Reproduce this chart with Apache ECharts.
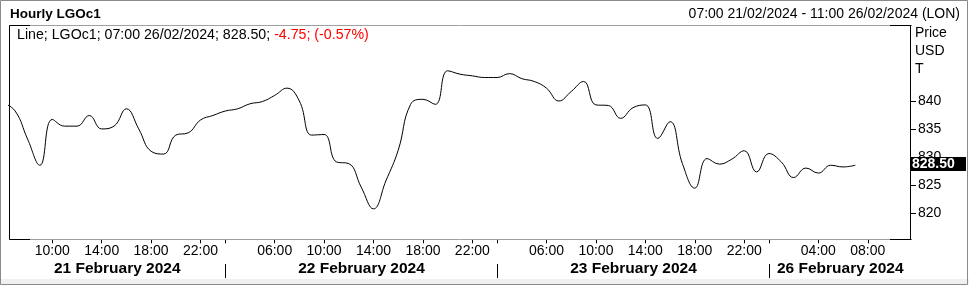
<!DOCTYPE html>
<html><head><meta charset="utf-8">
<script src="https://cdn.jsdelivr.net/npm/echarts@6/dist/echarts.min.js"></script>
<style>html,body{margin:0;padding:0;background:#fff}#c{width:969px;height:285px}</style>
</head><body><div id="c"></div>
<script>
// ---- data ----
const categories = [
  '21/02 06:00','21/02 07:00','21/02 08:00','21/02 09:00','21/02 10:00','21/02 11:00','21/02 12:00','21/02 13:00','21/02 14:00',
  '21/02 15:00','21/02 16:00','21/02 17:00','21/02 18:00','21/02 19:00','21/02 20:00','21/02 21:00','21/02 22:00','21/02 23:00',
  '22/02 02:00','22/02 03:00','22/02 04:00','22/02 05:00','22/02 06:00','22/02 07:00','22/02 08:00','22/02 09:00','22/02 10:00',
  '22/02 11:00','22/02 12:00','22/02 13:00','22/02 14:00','22/02 15:00','22/02 16:00','22/02 17:00','22/02 18:00','22/02 19:00',
  '22/02 20:00','22/02 21:00','22/02 22:00','22/02 23:00',
  '23/02 02:00','23/02 03:00','23/02 04:00','23/02 05:00','23/02 06:00','23/02 07:00','23/02 08:00','23/02 09:00','23/02 10:00',
  '23/02 11:00','23/02 12:00','23/02 13:00','23/02 14:00','23/02 15:00','23/02 16:00','23/02 17:00','23/02 18:00','23/02 19:00',
  '23/02 20:00','23/02 21:00','23/02 22:00','23/02 23:00',
  '26/02 00:00','26/02 01:00','26/02 02:00','26/02 03:00','26/02 04:00','26/02 05:00','26/02 06:00','26/02 07:00','26/02 08:00',
  '26/02 09:00','26/02 10:00','26/02 11:00'
];
const prices = [
  839.7,
  838.2, 833.2, 828.5, 836.7, 835.5, 835.5, 837.4, 835.0, 835.5, 838.6, 835.0, 831.0, 830.5, 833.9, 834.3, 836.6, 837.4,
  838.2, 838.6, 839.5, 839.9, 841.0, 842.3, 840.0, 833.9, 834.0, 829.1, 828.8, 824.6, 820.7, 825.7, 831.2, 839.4, 840.3,
  839.4, 845.4, 844.8, 844.5, 844.2,
  844.2, 844.9, 844.0, 843.5, 842.3, 840.0, 841.7, 843.5, 839.3, 839.2, 836.9, 838.8, 839.3, 833.3, 836.3, 828.8, 824.4,
  829.7, 828.7, 829.6, 831.1, 827.3,
  830.6, 829.1, 826.3, 828.0, 827.1, 828.5, 828.2, 828.50
];
const timeTicks = ['21/02 10:00','21/02 14:00','21/02 18:00','21/02 22:00',
  '22/02 06:00','22/02 10:00','22/02 14:00','22/02 18:00','22/02 22:00',
  '23/02 06:00','23/02 10:00','23/02 14:00','23/02 18:00','23/02 22:00',
  '26/02 04:00','26/02 08:00'];
const dayStarts = ['22/02 02:00','23/02 02:00','26/02 00:00'];
const dayLabels = ['21 February 2024','22 February 2024','23 February 2024','26 February 2024'];
const yTicks = [820, 825, 830, 835, 840];
const yUnitLabels = ['Price', 'USD', 'T'];
const lastValue = 828.50;
const lastValueText = '828.50';
const legendMain = 'Line; LGOc1; 07:00 26/02/2024; 828.50; ';
const legendChange = '-4.75; (-0.57%)';
const titleText = 'Hourly LGOc1';
const rangeText = '07:00 21/02/2024 - 11:00 26/02/2024 (LON)';

// ---- chart ----
const FONT = '"Liberation Sans", Arial, sans-serif';
const FS = '14px ';
const PL = 9, PR = 911, PT = 25, PB = 239;
const chart = echarts.init(document.getElementById('c'));
chart.setOption({
  animation: false,
  grid: { left: PL, width: PR - PL, top: PT, height: PB - PT + 0.3 },
  xAxis: {
    type: 'category', data: categories, boundaryGap: true, min: 1, max: categories.length - 1,
    axisLine: { show: false },
    axisTick: { show: true, alignWithLabel: true, length: 4, lineStyle: { color: '#000' },
      interval: (i, v) => timeTicks.includes(v) || dayStarts.includes(v) },
    axisLabel: { interval: (i, v) => timeTicks.includes(v), formatter: v => v.slice(6),
      fontSize: 14, color: '#000', fontFamily: FONT, margin: 4.5 },
    splitLine: { show: false }
  },
  yAxis: {
    type: 'value', position: 'right', min: 815.25, max: 853.6,
    axisLine: { show: false }, axisTick: { show: false }, axisLabel: { show: false }, splitLine: { show: false }
  },
  series: [{
    type: 'line', data: prices, smooth: 0.45, symbol: 'none', clip: true,
    lineStyle: { color: '#000', width: 1 }
  }]
});

const g = [];
const line = (x1, y1, x2, y2, c) => g.push({ type: 'line', silent: true, z: 10,
  shape: { x1, y1, x2, y2 }, style: { stroke: c, lineWidth: 1 } });
const text = (x, y, t, o) => g.push({ type: 'text', silent: true, z: 10, x, y,
  style: Object.assign({ text: t, fill: '#000', font: FS + FONT, textVerticalAlign: 'middle' }, o) });

// outer frame
g.push({ type: 'rect', silent: true, z: 1, shape: { x: 0, y: 279, width: 969, height: 6 }, style: { fill: '#f0f0f0' } });
g.push({ type: 'rect', silent: true, z: 2, shape: { x: 0.5, y: 0.5, width: 967, height: 284 }, style: { fill: null, stroke: '#8a8a8a', lineWidth: 1 } });

// plot box
line(PL + 0.5, PT + 0.5, PR + 0.5, PT + 0.5, '#a0a0a0');
line(PL + 0.5, PB + 0.5, PR + 0.5, PB + 0.5, '#a0a0a0');
line(PL + 0.5, PT + 0.5, 30, PT + 0.5, '#000');
line(PL + 0.5, PB + 0.5, 30, PB + 0.5, '#000');
line(890, PT + 0.5, PR + 0.5, PT + 0.5, '#000');
line(890, PB + 0.5, PR + 0.5, PB + 0.5, '#000');
line(PL + 0.5, PT + 0.5, PL + 0.5, PB + 0.5, '#000');
line(PR - 0.5, PT + 0.5, PR - 0.5, PB + 0.5, '#000');

// y ticks and labels
yTicks.forEach(v => {
  const y = Math.round(chart.convertToPixel({ yAxisIndex: 0 }, v)) + 0.5;
  line(PR, y, PR + 5, y, '#000');
  text(PR + 7, y, String(v));
});
yUnitLabels.forEach((t, i) => text(PR + 4, 33 + i * 18, t));

// last value box
const ly = Math.round(chart.convertToPixel({ yAxisIndex: 0 }, lastValue));
g.push({ type: 'rect', silent: true, z: 11, shape: { x: PR - 0.5, y: ly - 8, width: 55.5, height: 14 }, style: { fill: '#000' } });
g.push({ type: 'text', silent: true, z: 12, x: PR + 1, y: ly - 1, style: { text: lastValueText, fill: '#fff',
  font: 'bold 14px ' + FONT, textVerticalAlign: 'middle' } });

// day separators and date labels
const edges = [PL];
dayStarts.forEach(d => {
  const x = Math.round(chart.convertToPixel({ xAxisIndex: 0 }, categories.indexOf(d))) + 0.5;
  line(x, 264, x, 278, '#000');
  edges.push(x);
});
edges.push(PR);
dayLabels.forEach((t, i) => text((edges[i] + edges[i + 1]) / 2, 268.5, t,
  { font: 'bold 15.5px ' + FONT, textAlign: 'center' }));

// header
text(10, 14.5, titleText, { font: 'bold 13.5px ' + FONT });
text(960, 14.5, rangeText, { textAlign: 'right' });
g.push({ type: 'text', silent: true, z: 10, x: 17, y: 35.5, style: {
  text: '{a|' + legendMain + '}{b|' + legendChange + '}', textVerticalAlign: 'middle',
  rich: { a: { fill: '#000', font: '14.2px ' + FONT }, b: { fill: '#ff0000', font: '14.2px ' + FONT } } } });

chart.setOption({ graphic: { elements: g } });
</script>
</body></html>
